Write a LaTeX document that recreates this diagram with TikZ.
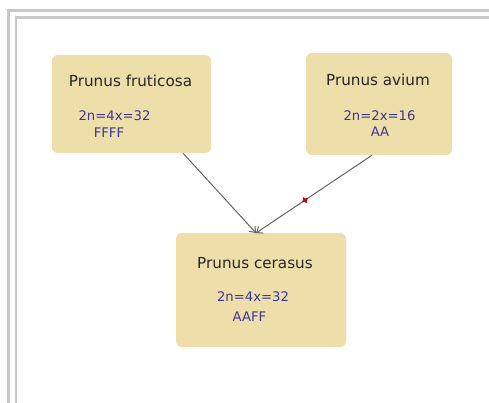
\documentclass[tikz,border=0pt]{standalone}
\usepackage{fontspec}
\setmainfont{DejaVu Sans}
\usetikzlibrary{arrows.meta,shapes.geometric}
\definecolor{boxfill}{RGB}{238,222,170}
\definecolor{frame}{RGB}{200,200,200}
\definecolor{bluetext}{RGB}{60,55,150}
\definecolor{linkgray}{RGB}{100,100,100}
\definecolor{marker}{RGB}{170,20,20}
\tikzset{
  taxon/.style={draw=none, fill=boxfill, rounded corners=6pt, inner sep=0pt},
  title/.style={font=\fontsize{15.2}{17}\selectfont, text=black!85, inner sep=0pt},
  geno/.style={font=\fontsize{13.2}{15}\selectfont, text=bluetext, inner sep=0pt},
  link/.style={draw=linkgray, line width=1pt, -{Straight Barb[length=5pt,width=8pt]}},
  border/.style={draw=frame, line width=2.6pt}
}
\begin{document}
\begin{tikzpicture}[x=1pt,y=-1pt]
\useasboundingbox (0,0) rectangle (489,403);
\fill[white] (0,0) rectangle (489,403);
% frame
\coordinate (o1) at (7,10.5); \coordinate (o2) at (489,10.5); \coordinate (o3) at (8.5,403);
\coordinate (i1) at (15,17.3); \coordinate (i2) at (489,17.3); \coordinate (i3) at (16,403);
\draw[border] (o2) -- (o1 -| o3) -- (o3);
\draw[border] (i2) -- (i1 -| i3) -- (i3);
% boxes
\node[taxon, minimum width=159pt, minimum height=98pt] (fr) at (131.5,104) {};
\node[taxon, minimum width=146pt, minimum height=102pt] (av) at (379,104) {};
\node[taxon, minimum width=170pt, minimum height=114pt] (ce) at (261,290) {};
% texts
\node[title] (frt) at (130.5,81) {Prunus fruticosa};
\node[geno] (frg1) at (114.5,116) {2n=4x=32};
\node[geno] (frg2) at (109,133) {FFFF};
\node[title] (avt) at (378,80) {Prunus avium};
\node[geno] (avg1) at (379.5,116) {2n=2x=16};
\node[geno] (avg2) at (380,132) {AA};
\node[title] (cet) at (255,263) {Prunus cerasus};
\node[geno] (ceg1) at (253,297) {2n=4x=32};
\node[geno] (ceg2) at (249.5,317) {AAFF};
% connectors
\coordinate (tip) at (256,233);
\draw[link] (fr.south -| 183,0) -- (tip);
\draw[link] (av.south -| 372,0) -- node[pos=0.578, sloped, star, star points=4, star point ratio=2.2, fill=marker, inner sep=0pt, minimum size=8pt] (mk) {} (tip);
\end{tikzpicture}
\end{document}
